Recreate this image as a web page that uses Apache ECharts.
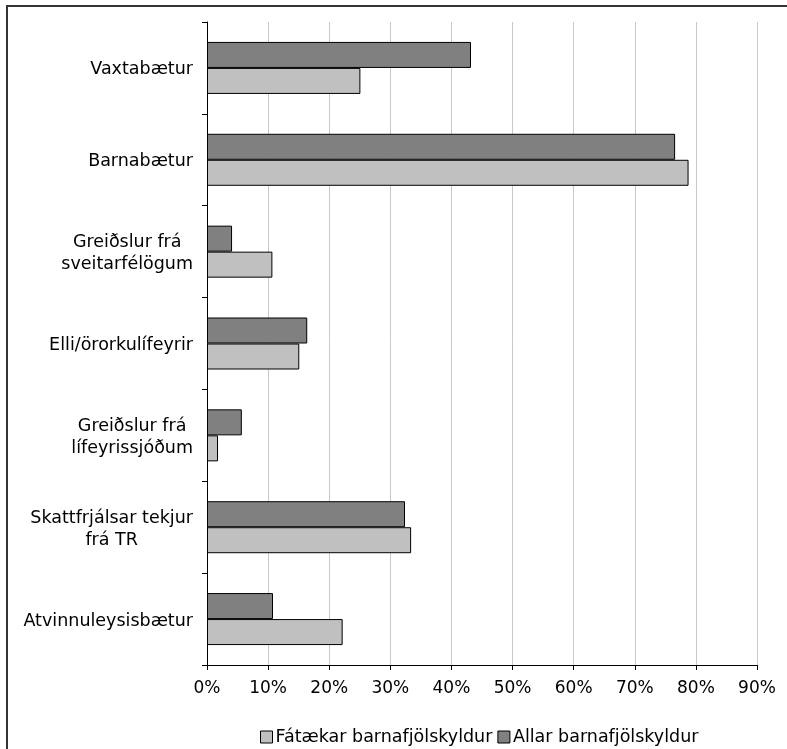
<!DOCTYPE html>
<html><head><meta charset="utf-8">
<script src="https://cdn.jsdelivr.net/npm/echarts@6/dist/echarts.min.js"></script>
<style>html,body{margin:0;padding:0;background:#fff}#c{width:787px;height:749px}</style>
</head><body><div id="c"></div>
<script>
const categories = ['Vaxtabætur','Barnabætur','Greiðslur frá\nsveitarfélögum','Elli/örorkulífeyrir','Greiðslur frá\nlífeyrissjóðum','Skattfrjálsar tekjur\nfrá TR','Atvinnuleysisbætur'];
const seriesNames = ['Fátækar barnafjölskyldur','Allar barnafjölskyldur'];
const fataekar = [25.1, 78.8, 10.7, 15.1, 1.8, 33.4, 22.2];
const allar = [43.2, 76.6, 4.1, 16.4, 5.7, 32.4, 10.8];
const xTicks = [0,10,20,30,40,50,60,70,80,90];

const chart = echarts.init(document.getElementById('c'), null, {renderer:'canvas'});
const font = 'DejaVu Sans, Verdana, sans-serif';
chart.setOption({
  animation:false,
  backgroundColor:'#fff',
  graphic:[{type:'rect',shape:{x:7,y:6,width:800,height:800},style:{fill:'none',stroke:'#333',lineWidth:2},silent:true}],
  grid:{left:207,right:30,top:22,bottom:84,containLabel:false},
  legend:{
    data:seriesNames, left:255, top:723, itemWidth:12, itemHeight:12, itemGap:5,
    icon:'rect',
    textStyle:{fontFamily:font,fontSize:17.5,color:'#000',padding:[0,0,0,-2]},
    itemStyle:{borderColor:'#000',borderWidth:1}
  },
  xAxis:{
    type:'value', min:xTicks[0], max:xTicks[xTicks.length-1], interval:10,
    axisLine:{show:true,lineStyle:{color:'#000',width:1}},
    axisTick:{show:true,length:5,lineStyle:{color:'#000'}},
    axisLabel:{formatter:v=>v+'%',fontFamily:font,fontSize:17,color:'#000',margin:15},
    splitLine:{show:true,lineStyle:{color:'#c8c8c8',width:1}}
  },
  yAxis:{
    type:'category', data:categories, inverse:true,
    axisLine:{show:true,lineStyle:{color:'#000',width:1}},
    axisTick:{show:true,length:5,lineStyle:{color:'#000'}},
    axisLabel:{
      margin:14, align:'right', padding:[4,0,0,0],
      formatter:v=>v.split('\n').map(s=>'{c|'+s+'}').join('\n'),
      rich:{c:{fontFamily:font,fontSize:17.5,color:'#000',lineHeight:22,align:'center'}}
    },
    splitLine:{show:false}
  },
  series:[
    {name:seriesNames[1],type:'bar',data:allar,barWidth:26,barGap:'0%',
     itemStyle:{color:'#808080',borderColor:'#000',borderWidth:1}},
    {name:seriesNames[0],type:'bar',data:fataekar,barWidth:26,barGap:'0%',
     itemStyle:{color:'#c0c0c0',borderColor:'#000',borderWidth:1}}
  ]
});
</script></body></html>
